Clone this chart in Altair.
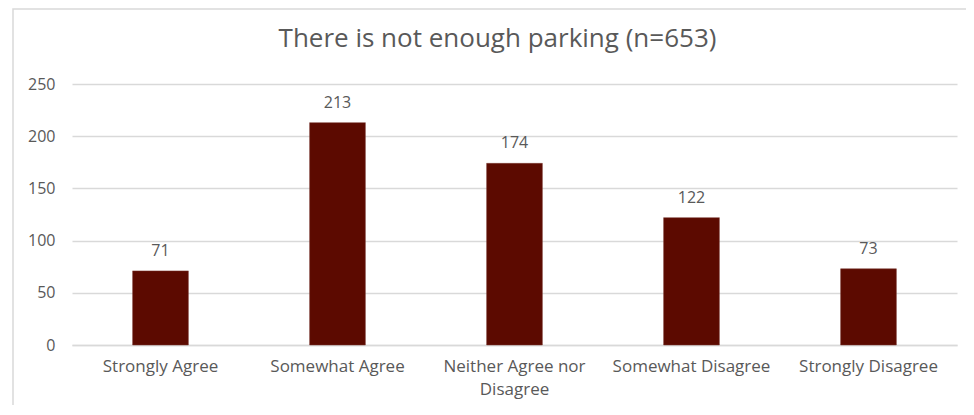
import altair as alt
import pandas as pd

categories = ["Strongly Agree", "Somewhat Agree", "Neither Agree nor Disagree",
              "Somewhat Disagree", "Strongly Disagree"]
counts = [71, 213, 174, 122, 73]
y_ticks = [0, 50, 100, 150, 200, 250]
title_text = "There is not enough parking (n=653)"

df = pd.DataFrame({"category": categories, "count": counts})

FONT = "Open Sans"
GRAY = "#595959"
BAR = "#5C0A00"

x_enc = alt.X(
    "category:N", sort=categories, title=None,
    scale=alt.Scale(paddingInner=0.685, paddingOuter=0.3425),
    axis=alt.Axis(labelAngle=0, ticks=False, domainColor="#d9d9d9", domainWidth=1.5,
                  labelFont=FONT, labelFontSize=17, labelColor=GRAY, labelPadding=13,
                  labelLineHeight=23.5,
                  labelExpr="datum.label == 'Neither Agree nor Disagree' ? ['Neither Agree nor', 'Disagree'] : datum.label"),
)
y_enc = alt.Y(
    "count:Q", title=None,
    scale=alt.Scale(domain=[0, 250], nice=False),
    axis=alt.Axis(values=y_ticks, ticks=False, domain=False, grid=True,
                  gridColor="#d9d9d9", gridWidth=1.5,
                  labelFont=FONT, labelFontSize=16, labelColor=GRAY, labelPadding=17),
)

bars = alt.Chart(df).mark_bar(color=BAR, stroke="#7a3a30", strokeWidth=0.5).encode(x=x_enc, y=y_enc)
labels = alt.Chart(df).mark_text(
    font=FONT, fontSize=16, color=GRAY, baseline="alphabetic", dy=-15
).encode(x=alt.X("category:N", sort=categories), y="count:Q", text="count:Q")

frame = alt.Chart(alt.Data(values=[{"a": 1}])).mark_rect(
    fill="transparent", stroke="#d9d9d9", strokeWidth=1.5
).encode(x=alt.value(-59), x2=alt.value(1000), y=alt.value(-75), y2=alt.value(500))

chart = alt.layer(frame, bars, labels).properties(
    width=885, height=261,
    title=alt.TitleParams(title_text, font=FONT, fontSize=26, color=GRAY,
                          fontWeight="normal", anchor="middle", frame="group",
                          dx=-17, offset=-65, baseline="alphabetic"),
    autosize=alt.AutoSizeParams(type="none"),
    padding={"left": 64, "top": 76, "right": 9, "bottom": 60},
).configure_view(stroke=None)

chart.save("out.html", embed_options={"renderer": "svg", "actions": False})
